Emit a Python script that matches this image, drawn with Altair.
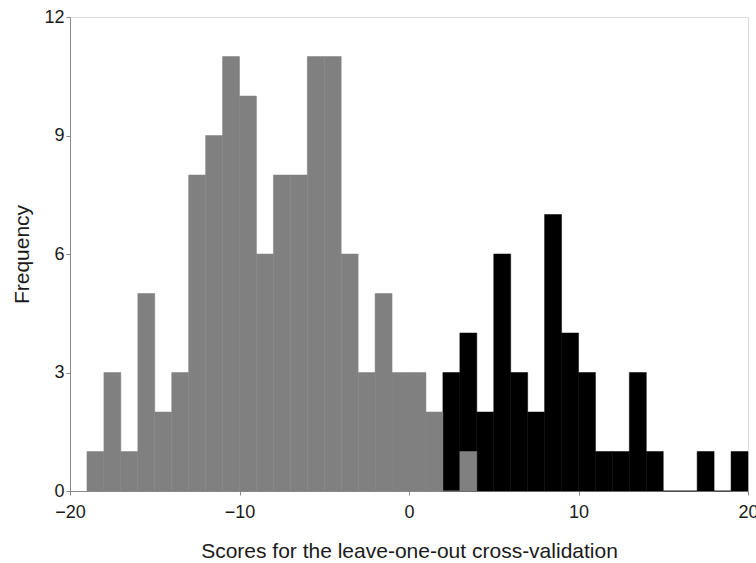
import altair as alt
import pandas as pd

# bin start values (bin width 1)
gray_starts = list(range(-19, 4))
gray_counts = [1, 3, 1, 5, 2, 3, 8, 9, 11, 10, 6, 8, 8, 11, 11, 6, 3, 5, 3, 3, 2, 0, 1]
black_starts = list(range(2, 20))
black_counts = [3, 4, 2, 6, 3, 2, 7, 4, 3, 1, 1, 3, 1, 0, 0, 1, 0, 1]

x_ticks = [-20, -10, 0, 10, 20]
y_ticks = [0, 3, 6, 9, 12]

gray_df = pd.DataFrame({"start": gray_starts, "end": [s + 1 for s in gray_starts],
                        "count": gray_counts, "base": [0] * len(gray_starts)})
black_df = pd.DataFrame({"start": black_starts, "end": [s + 1 for s in black_starts],
                         "count": black_counts, "base": [0] * len(black_starts)})

FONT = "Liberation Sans"

x_scale = alt.Scale(domain=[-20, 20], nice=False, zero=False)
y_scale = alt.Scale(domain=[0, 12], nice=False)

x_axis = alt.Axis(
    values=x_ticks, title="Scores for the leave-one-out cross-validation",
    grid=False, domainColor="#8a8a8a", tickColor="#8a8a8a", tickSize=4,
    labelFontSize=18, labelFont=FONT, labelColor="#1a1a1a", labelPadding=8,
    labelFlush=False, labelOverlap=False,
    titleFontSize=21, titleFont=FONT, titleColor="#1a1a1a", titleFontWeight="normal",
    titleY=66, titleBaseline="alphabetic",
)
y_axis = alt.Axis(
    values=y_ticks, title="Frequency",
    grid=False, domainColor="#8a8a8a", tickColor="#8a8a8a", tickSize=4,
    labelFontSize=18, labelFont=FONT, labelColor="#1a1a1a", labelPadding=2,
    labelFlush=False, labelOverlap=False,
    titleFontSize=21, titleFont=FONT, titleColor="#1a1a1a", titleFontWeight="normal",
    titleX=-42, titleBaseline="alphabetic",
)

black = alt.Chart(black_df).mark_rect(color="#000000", stroke="#000000", strokeWidth=0.5).encode(
    x=alt.X("start:Q", scale=x_scale, axis=x_axis),
    x2="end:Q",
    y=alt.Y("count:Q", scale=y_scale, axis=y_axis),
    y2="base:Q",
)
gray = alt.Chart(gray_df).mark_rect(color="#808080", stroke="#808080", strokeWidth=0.5).encode(
    x=alt.X("start:Q", scale=x_scale, axis=x_axis),
    x2="end:Q",
    y=alt.Y("count:Q", scale=y_scale, axis=y_axis),
    y2="base:Q",
)

chart = alt.layer(black, gray).properties(
    width=678, height=474,
    autosize=alt.AutoSizeParams(type="none"),
    padding={"left": 70, "top": 17, "right": 8, "bottom": 72},
).configure_view(stroke=None).configure(background="white")

chart.save("out.html", embed_options={"renderer": "svg", "actions": False})
